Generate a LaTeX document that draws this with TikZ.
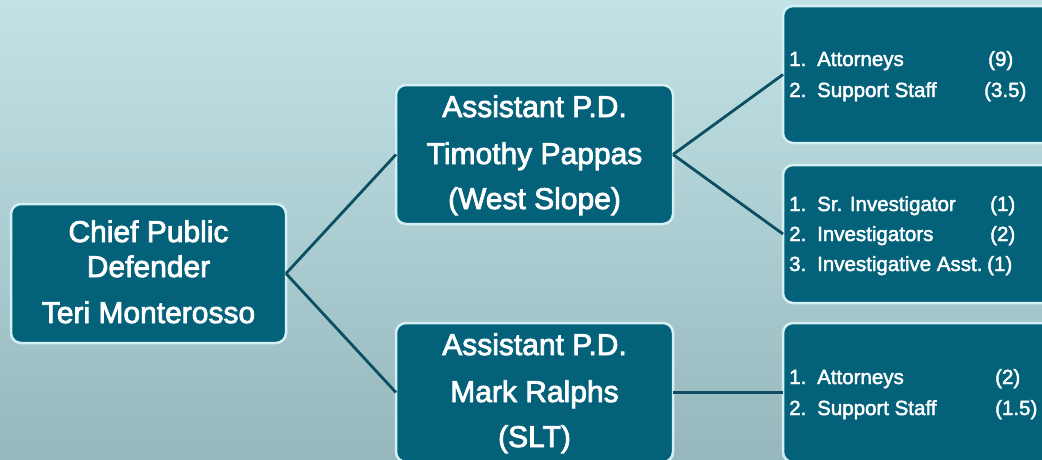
\documentclass[tikz,border=0pt]{standalone}
\usepackage{fontspec}
\setmainfont{Liberation Sans}
\newfontfamily\medfont{Liberation Sans}[FakeBold=2.6]
\newfontfamily\medsmall{Liberation Sans}[FakeBold=2.2]
\definecolor{boxfill}{RGB}{4,97,122}
\definecolor{boxedge}{RGB}{212,240,244}
\definecolor{linkcol}{RGB}{12,78,98}
\definecolor{bgtop}{RGB}{194,226,230}
\definecolor{bgbot}{RGB}{150,184,188}
\tikzset{
  orgbox/.style={draw=boxedge, line width=2.5pt, fill=boxfill, rounded corners=10pt,
    anchor=north west, inner sep=0pt, outer sep=0pt},
  bigtxt/.style={text=white, anchor=base, inner sep=0pt, font=\medfont\fontsize{30}{36}\selectfont},
  smalltxt/.style={text=white, anchor=base west, inner sep=0pt, font=\medsmall\fontsize{20.5}{24}\selectfont},
  link/.style={draw=linkcol, line width=2.8pt}
}
\begin{document}
\begin{tikzpicture}[x=1pt,y=-1pt]
\useasboundingbox (0,0) rectangle (1042,459);
\clip (0,0) rectangle (1042,459);
\shade[top color=bgtop, bottom color=bgbot] (0,0) rectangle (1042,459);
% boxes
\node[orgbox, minimum width=275pt, minimum height=139pt] (chief) at (11,204) {};
\node[orgbox, minimum width=277pt, minimum height=139pt] (westpd) at (396,85) {};
\node[orgbox, minimum width=277pt, minimum height=139pt] (sltpd) at (396,323) {};
\node[orgbox, minimum width=290pt, minimum height=137pt] (weststaff) at (783,6) {};
\node[orgbox, minimum width=290pt, minimum height=138pt] (westinv) at (783,165) {};
\node[orgbox, minimum width=290pt, minimum height=139pt] (sltstaff) at (783,323) {};
% connectors
\draw[link] (chief.east) -- (westpd.west);
\draw[link] (chief.east) -- (sltpd.west);
\draw[link] (westpd.east) -- (weststaff.west);
\draw[link] (westpd.east) -- (westinv.west);
\draw[link] (sltpd.east) -- (sltstaff.west);
% chief text
\node[bigtxt] (c1) at (148.5,242) {Chief Public};
\node[bigtxt] (c2) at (148.5,277) {Defender};
\node[bigtxt] (c3) at (148.5,323) {Teri Monterosso};
% west slope
\node[bigtxt] (w1) at (534.5,117) {Assistant P.D.};
\node[bigtxt] (w2) at (534.5,164) {Timothy Pappas};
\node[bigtxt] (w3) at (534.5,209) {(West Slope)};
% slt
\node[bigtxt] (s1) at (534.5,355) {Assistant P.D.};
\node[bigtxt] (s2) at (534.5,402) {Mark Ralphs};
\node[bigtxt] (s3) at (534.5,447) {(SLT)};
% west staff list
\node[smalltxt] (a1n) at (789,66) {1.};
\node[smalltxt] (a1t) at (817,66) {Attorneys};
\node[smalltxt] (a1c) at (988,66) {(9)};
\node[smalltxt] (a2n) at (789,97) {2.};
\node[smalltxt] (a2t) at (817,97) {Support Staff};
\node[smalltxt] (a2c) at (984,97) {(3.5)};
% investigators list
\node[smalltxt] (b1n) at (789,211) {1.};
\node[smalltxt] (b1t) at (817,211) {Sr. Investigator};
\node[smalltxt] (b1c) at (990,211) {(1)};
\node[smalltxt] (b2n) at (789,241) {2.};
\node[smalltxt] (b2t) at (817,241) {Investigators};
\node[smalltxt] (b2c) at (990,241) {(2)};
\node[smalltxt] (b3n) at (789,271) {3.};
\node[smalltxt] (b3t) at (817,271) {Investigative Asst.};
\node[smalltxt] (b3c) at (987,271) {(1)};
% slt staff list
\node[smalltxt] (d1n) at (789,384) {1.};
\node[smalltxt] (d1t) at (817,384) {Attorneys};
\node[smalltxt] (d1c) at (995,384) {(2)};
\node[smalltxt] (d2n) at (789,415) {2.};
\node[smalltxt] (d2t) at (817,415) {Support Staff};
\node[smalltxt] (d2c) at (995,415) {(1.5)};
\end{tikzpicture}
\end{document}
